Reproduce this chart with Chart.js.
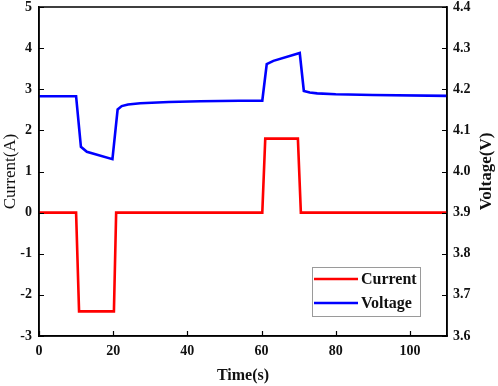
<!DOCTYPE html>
<html>
<head>
<meta charset="utf-8">
<script src="https://cdn.jsdelivr.net/npm/chart.js@4.4.1/dist/chart.umd.min.js"></script>
<style>
html,body{margin:0;padding:0;background:#fff;}
#wrap{width:498px;height:386px;}
</style>
</head>
<body>
<div id="wrap"><canvas id="c" width="498" height="386"></canvas></div>
<script>
// ---- Data ----
const currentTime   = [0, 10, 10.8, 20.2, 20.8, 60.2, 61, 69.8, 70.6, 110];
const currentValues = [0, 0, -2.4, -2.4, 0, 0, 1.8, 1.8, 0, 0];

const voltageTime   = [0, 10, 11.3, 12.9, 19.8, 21.2, 22.3, 24, 27.3, 35, 43.5, 54, 60.2, 61.4, 63.2, 70.3, 71.4, 73, 75, 80, 90, 110];
const voltageValues = [4.183, 4.183, 4.060, 4.048, 4.030, 4.151, 4.159, 4.163, 4.166, 4.169, 4.171, 4.172, 4.172, 4.261, 4.269, 4.288, 4.196, 4.192, 4.190, 4.188, 4.186, 4.184];

const xTicks = [0, 20, 40, 60, 80, 100];
const seriesNames = ['Current', 'Voltage'];
const seriesColors = ['#ff0000', '#0000ff'];
const axisTitles = {x: 'Time(s)', y: 'Current(A)', y2: 'Voltage(V)'};

const FONT = "'Liberation Serif', 'Times New Roman', serif";

const zip = (xs, ys) => xs.map((x, i) => ({x: x, y: ys[i]}));

const frame = {
  id: 'frame',
  afterDraw(chart) {
    const {ctx, chartArea: a} = chart;
    ctx.save();
    ctx.strokeStyle = '#000';
    ctx.lineWidth = 1.5;
    ctx.strokeRect(a.left, a.top, a.right - a.left, a.bottom - a.top);
    // inward tick marks
    ctx.lineWidth = 1.2;
    ctx.beginPath();
    const sx = chart.scales.x, sy = chart.scales.y, sy2 = chart.scales.y2;
    sx.ticks.forEach(t => {
      const p = Math.round(sx.getPixelForValue(t.value)) + 0.5;
      ctx.moveTo(p, a.bottom); ctx.lineTo(p, a.bottom - 5);
    });
    sy.ticks.forEach(t => {
      const p = Math.round(sy.getPixelForValue(t.value)) + 0.5;
      ctx.moveTo(a.left, p); ctx.lineTo(a.left + 5, p);
    });
    sy2.ticks.forEach(t => {
      const p = Math.round(sy2.getPixelForValue(t.value)) + 0.5;
      ctx.moveTo(a.right, p); ctx.lineTo(a.right - 5, p);
    });
    ctx.stroke();
    // right axis title (reads bottom-to-top)
    ctx.fillStyle = '#111';
    ctx.font = "bold 17px " + FONT;
    ctx.textAlign = 'center';
    ctx.textBaseline = 'middle';
    ctx.translate(chart.width - 11, (a.top + a.bottom) / 2);
    ctx.rotate(-Math.PI / 2);
    ctx.fillText(axisTitles.y2, 0, 0);
    ctx.restore();

    // legend box
    ctx.save();
    const bx1 = a.right - 135, by1 = a.bottom - 69, bx2 = a.right - 27, by2 = a.bottom - 20;
    ctx.fillStyle = '#fff';
    ctx.fillRect(bx1, by1, bx2 - bx1, by2 - by1);
    ctx.strokeStyle = '#9a9a9a';
    ctx.lineWidth = 1;
    ctx.strokeRect(bx1 + 0.5, by1 + 0.5, bx2 - bx1, by2 - by1);
    ctx.font = "bold 16px " + FONT;
    ctx.textAlign = 'left';
    ctx.textBaseline = 'middle';
    chart.data.datasets.forEach((ds, i) => {
      const yy = by1 + 12 + i * 24;
      ctx.strokeStyle = ds.borderColor;
      ctx.lineWidth = 2.5;
      ctx.beginPath();
      ctx.moveTo(bx1 + 2, yy);
      ctx.lineTo(bx1 + 46, yy);
      ctx.stroke();
      ctx.fillStyle = '#111';
      ctx.fillText(ds.label, bx1 + 49, yy + 1);
    });
    ctx.restore();
  }
};

const fitY = w => s => { s.width = w; s.paddingTop = 7; s.paddingBottom = 0; };

new Chart(document.getElementById('c'), {
  type: 'line',
  data: {
    datasets: [
      {label: seriesNames[0], data: zip(currentTime, currentValues), yAxisID: 'y',
       borderColor: seriesColors[0], backgroundColor: seriesColors[0], borderWidth: 2.6, pointRadius: 0, tension: 0},
      {label: seriesNames[1], data: zip(voltageTime, voltageValues), yAxisID: 'y2',
       borderColor: seriesColors[1], backgroundColor: seriesColors[1], borderWidth: 2.6, pointRadius: 0, tension: 0}
    ]
  },
  options: {
    responsive: false,
    animation: false,
    layout: {padding: {top: 0, left: 0, right: 0, bottom: 0}},
    plugins: {legend: {display: false}, tooltip: {enabled: false}},
    scales: {
      x: {
        type: 'linear', min: 0, max: 110,
        afterBuildTicks: s => { s.ticks = xTicks.map(v => ({value: v})); },
        afterFit: s => { s.height = 50; s.paddingLeft = 0; s.paddingRight = 0; },
        grid: {display: false, drawOnChartArea: false, drawTicks: false},
        border: {display: true, color: '#000', width: 1.5},
        ticks: {padding: 7, color: '#111', font: {family: FONT, size: 14, weight: 'bold'}, maxRotation: 0},
        title: {display: true, text: axisTitles.x, color: '#111', padding: {top: 0, bottom: 1},
                font: {family: FONT, size: 16, weight: 'bold'}}
      },
      y: {
        type: 'linear', position: 'left', min: -3, max: 5,
        afterFit: fitY(39),
        grid: {display: false, drawOnChartArea: false, drawTicks: false},
        border: {display: true, color: '#000', width: 1.5},
        ticks: {stepSize: 1, padding: 7, color: '#111', font: {family: FONT, size: 14, weight: 'bold'}},
        title: {display: true, text: axisTitles.y, color: '#111', padding: {top: 0, bottom: 0},
                font: {family: FONT, size: 17, weight: 'normal'}}
      },
      y2: {
        type: 'linear', position: 'right', min: 3.6, max: 4.4,
        afterFit: fitY(51),
        grid: {display: false, drawOnChartArea: false, drawTicks: false},
        border: {display: true, color: '#000', width: 1.5},
        ticks: {stepSize: 0.1, padding: 6, color: '#111', font: {family: FONT, size: 14, weight: 'bold'},
                callback: v => Number(v).toFixed(1)}
      }
    }
  },
  plugins: [frame]
});
</script>
</body>
</html>
